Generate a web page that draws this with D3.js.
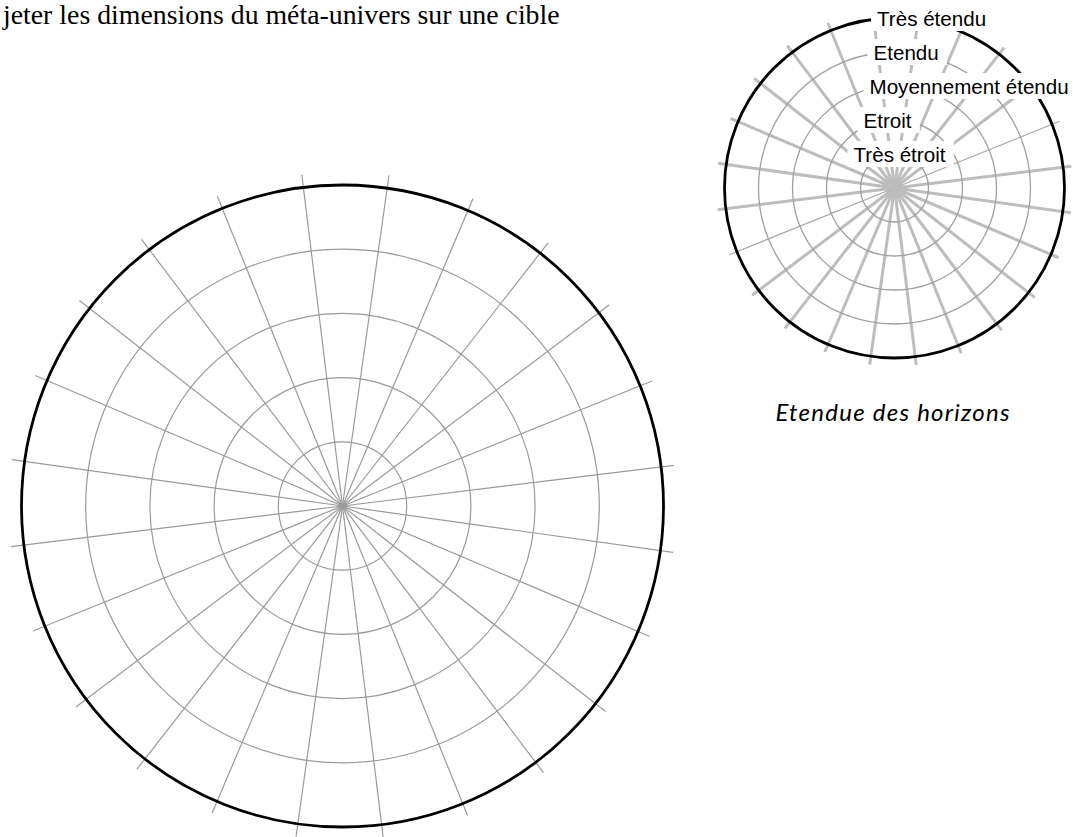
<!DOCTYPE html>
<html>
<head>
<meta charset="utf-8">
<script src="https://cdn.jsdelivr.net/npm/d3@7"></script>
<style>
  html, body { margin: 0; padding: 0; background: #fff; }
  svg { display: block; }
</style>
</head>
<body>
<svg id="chart" width="1080" height="837"></svg>
<script>
// ---- data ----
const titleText = "jeter les dimensions du méta-univers sur une cible";
const levels = ["Très étroit", "Etroit", "Moyennement étendu", "Etendu", "Très étendu"];
const ringValues = [1, 2, 3, 4, 5];
const spokeAngles = [8, 23, 38, 53, 68, 83, 98, 113, 128, 143, 158, 173,
                     188, 203, 218, 233, 248, 263, 278, 293, 308, 323, 338, 353];
const thinSmallSpokes = [68, 248];
const smallCaption = "Etendue des horizons";

// ---- drawing ----
const svg = d3.select("#chart");
const toRad = d => d * Math.PI / 180;
const px = (a, r) => r * Math.sin(toRad(a));
const py = (a, r) => -r * Math.cos(toRad(a));

svg.append("text")
  .attr("x", 3).attr("y", 24)
  .attr("font-family", "Liberation Serif, Times New Roman, serif")
  .attr("font-size", 27.8)
  .attr("fill", "#000")
  .text(titleText);

// Large target
{
  const cx = 342.5, cy = 506;
  const r = d3.scaleLinear().domain([0, 5]).range([0, 321]);
  const g = svg.append("g").attr("transform", `translate(${cx},${cy})`);
  g.selectAll("line.spoke").data(spokeAngles).join("line")
    .attr("class", "spoke")
    .attr("x1", 0).attr("y1", 0)
    .attr("x2", a => px(a, r(5.2))).attr("y2", a => py(a, r(5.2)))
    .attr("stroke", "#9a9a9a").attr("stroke-width", 1.2);
  g.selectAll("circle.ring").data(ringValues.slice(0, 4)).join("circle")
    .attr("class", "ring")
    .attr("r", d => r(d))
    .attr("fill", "none").attr("stroke", "#9a9a9a").attr("stroke-width", 1.2);
  g.append("circle").attr("r", r(5))
    .attr("fill", "none").attr("stroke", "#000").attr("stroke-width", 2.8);
}

// Small target
{
  const cx = 894.5, cy = 188;
  const r = d3.scaleLinear().domain([0, 5]).range([0, 170]);
  const g = svg.append("g").attr("transform", `translate(${cx},${cy})`);
  g.selectAll("line.spoke").data(spokeAngles).join("line")
    .attr("class", "spoke")
    .attr("x1", 0).attr("y1", 0)
    .attr("x2", a => px(a, r(5.24))).attr("y2", a => py(a, r(5.24)))
    .attr("stroke", a => thinSmallSpokes.includes(a) ? "#a8a8a8" : "#bdbdbd")
    .attr("stroke-width", a => thinSmallSpokes.includes(a) ? 1.3 : 3);
  g.selectAll("circle.ring").data(ringValues.slice(0, 4)).join("circle")
    .attr("class", "ring")
    .attr("r", d => r(d))
    .attr("fill", "none").attr("stroke", "#a0a0a0").attr("stroke-width", 1.3);
  g.append("circle").attr("r", r(5))
    .attr("fill", "none").attr("stroke", "#000").attr("stroke-width", 2.8);

  // labels with white boxes
  const leftOffsets = [41, 31, 25, 21, 17.5];
  const lab = g.selectAll("g.lab").data(levels).join("g").attr("class", "lab");
  lab.each(function(d, i) {
    const gg = d3.select(this);
    const base = -r(i + 1) + 8;
    const t = gg.append("text")
      .attr("x", -leftOffsets[i]).attr("y", base)
      .attr("font-family", "Liberation Sans, Arial, sans-serif")
      .attr("font-size", 20.6)
      .attr("fill", "#000")
      .text(d);
    const bb = t.node().getBBox();
    gg.insert("rect", "text")
      .attr("x", bb.x - 6).attr("y", base - 21)
      .attr("width", bb.width + 14).attr("height", 26)
      .attr("fill", "#fff");
  });

  svg.append("text")
    .attr("x", cx - 2).attr("y", 421)
    .attr("text-anchor", "middle")
    .attr("font-family", "Lato, sans-serif")
    .attr("font-style", "italic")
    .attr("font-size", 24)
    .attr("textLength", 234)
    .attr("lengthAdjust", "spacing")
    .attr("fill", "#000")
    .text(smallCaption);
}
</script>
</body>
</html>
